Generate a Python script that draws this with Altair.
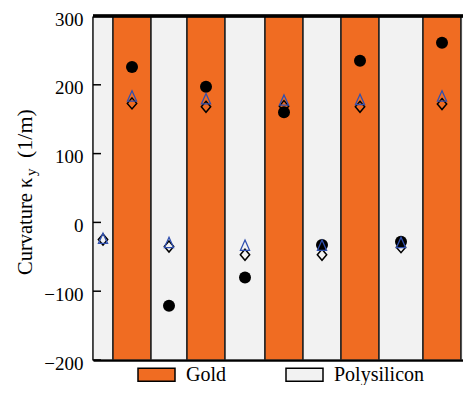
import altair as alt
import pandas as pd

# ---- data ----
stripe_material = ["Polysilicon", "Gold", "Polysilicon", "Gold", "Polysilicon", "Gold",
                   "Polysilicon", "Gold", "Polysilicon", "Gold", "Polysilicon"]
stripe_start = [0, 20, 58, 94, 132, 172, 210, 248, 286, 330, 368]
stripe_end = [20, 58, 94, 132, 172, 210, 248, 286, 330, 368, 392]

point_pos = [10, 39, 76, 113, 152, 191, 229, 267, 308, 349, 380]
measured = [None, 226, -121, 197, -80, 160, -33, 235, -28, 261, None]
model_a = [-24, 183, -30, 179, -34, 177, -34, 178, -30, 183, -24]   # blue triangles
model_b = [-25, 173, -35, 168, -47, 169, -47, 168, -36, 172, -26]   # black diamonds

y_ticks = [-200, -100, 0, 100, 200, 300]

W, H = 370, 344
FONT = "Liberation Serif"

stripes = pd.DataFrame({"material": stripe_material, "x0": stripe_start, "x1": stripe_end})
pts = pd.DataFrame({"pos": point_pos, "measured": measured, "a": model_a, "b": model_b})
ticks = pd.DataFrame({"v": y_ticks})

xs = alt.Scale(domain=[0, 370], nice=False, zero=False)
ys = alt.Scale(domain=[-200, 300], nice=False, zero=False)

x_axis = alt.Axis(labels=False, ticks=False, domain=True, domainColor="black",
                  domainWidth=2.5, grid=False, title=None)
y_axis = alt.Axis(values=y_ticks, title=None, grid=False, tickSize=0,
                  labelFont=FONT, labelFontSize=19, labelColor="black",
                  labelBaseline="alphabetic", labelOffset=9,
                  labelPadding=10, domainColor="black", domainWidth=2.5)

rects = alt.Chart(stripes).mark_rect(stroke="#222222", strokeWidth=1.5, clip=True).encode(
    x=alt.X("x0:Q", scale=xs, axis=x_axis),
    x2="x1:Q",
    y=alt.Y(datum=-200, scale=ys, type="quantitative", axis=y_axis),
    y2=alt.datum(300),
    fill=alt.Fill("material:N",
                  scale=alt.Scale(domain=["Gold", "Polysilicon"], range=["#F06C22", "#F2F2F2"]),
                  legend=alt.Legend(title=None, orient="none", legendX=44, legendY=339,
                                    direction="horizontal",
                                    symbolType="M-1,-0.35H1V0.35H-1Z", symbolSize=1369,
                                    symbolStrokeColor="black", symbolStrokeWidth=1.5,
                                    labelFont=FONT, labelFontSize=20, labelColor="black",
                                    labelOffset=10, columnPadding=57, padding=0)),
)

top_rule = alt.Chart(ticks).mark_rule(color="black", strokeWidth=2.5).encode(
    y=alt.Y(datum=300, scale=ys, type="quantitative", axis=y_axis))
tick_rules = alt.Chart(ticks).mark_rule(color="black", strokeWidth=1.5).encode(
    y=alt.Y("v:Q", scale=ys, axis=y_axis), x=alt.value(0), x2=alt.value(8))

circles = alt.Chart(pts).mark_point(shape="circle", filled=True, color="black", size=144,
                                    opacity=1, clip=True).encode(
    x=alt.X("pos:Q", scale=xs, axis=x_axis), y=alt.Y("measured:Q", scale=ys, axis=y_axis))
diamonds = alt.Chart(pts).mark_point(shape="M0,-1L0.85,0L0,1L-0.85,0Z", filled=False,
                                     color="black", size=121, strokeWidth=1.5, opacity=1,
                                     clip=True).encode(
    x=alt.X("pos:Q", scale=xs, axis=x_axis), y=alt.Y("b:Q", scale=ys, axis=y_axis))
triangles = alt.Chart(pts).mark_point(shape="M0,-1L0.8,0.8L-0.8,0.8Z", filled=False,
                                      color="#3050B0", size=130, strokeWidth=1.3, opacity=1,
                                      clip=True).encode(
    x=alt.X("pos:Q", scale=xs, axis=x_axis), y=alt.Y("a:Q", scale=ys, axis=y_axis))


def rot_text(s, size, x, y):
    return alt.Chart(pd.DataFrame({"t": [s]})).mark_text(
        font=FONT, fontSize=size, angle=270, align="left", baseline="alphabetic", color="black"
    ).encode(text="t:N", x=alt.value(x), y=alt.value(y))


t1 = rot_text("Curvature κ", 20.5, -61, 259)
t2 = rot_text("y", 15, -57, 160)
t3 = rot_text("(1/m)", 22, -61, 142)

chart = alt.layer(rects, top_rule, tick_rules, circles, diamonds, triangles,
                  t1, t2, t3).properties(
    width=W, height=H,
    autosize=alt.AutoSizeParams(type="none"),
    padding={"left": 85, "top": 8, "right": 0, "bottom": 25},
).configure(background="white", font=FONT).configure_view(stroke=None).configure_axis(
    labelFont=FONT, labelFontSize=19, labelColor="black"
).configure_axisY(labelFont=FONT).configure_legend(labelFont=FONT)

chart.save("out.html", embed_options={"renderer": "svg", "actions": False})
